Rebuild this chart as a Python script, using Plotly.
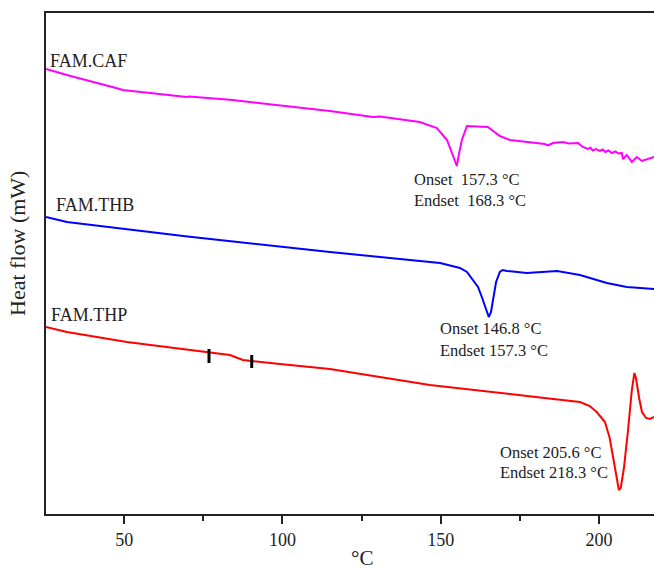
import plotly.graph_objects as go

# ---- data (temperature in °C, heat flow in arbitrary offset units) ----
caf_T = [25.3, 31.9, 48.6, 49.5, 69.8, 70.5, 84.3, 115.0, 128.6, 130.8, 143.4, 148.8, 152.0, 154.2, 155.1,
         155.9, 156.7, 158.3, 164.9, 168.7, 171.9, 182.9, 183.8, 184.5, 185.5, 188.6, 190.5, 193.4, 194.9,
         196.5, 197.3, 198.0, 199.0, 200.3, 201.2, 202.0, 203.0, 204.1, 205.2, 206.2, 207.2, 207.6,
         208.8, 210.4, 212.0, 213.6, 215.5, 217.4]
caf_HF = [8.90, 8.78, 8.50, 8.48, 8.34, 8.35, 8.28, 8.06, 7.94, 7.95, 7.84, 7.72, 7.48, 7.12, 6.96,
          7.24, 7.48, 7.76, 7.74, 7.56, 7.48, 7.40, 7.37, 7.39, 7.42, 7.44, 7.41, 7.42, 7.34,
          7.30, 7.33, 7.27, 7.30, 7.26, 7.29, 7.24, 7.27, 7.22, 7.25, 7.21, 7.22, 7.10,
          7.18, 7.04, 7.14, 7.06, 7.10, 7.14]

thb_T = [25.3, 31.9, 70.0, 115.0, 149.8, 156.1, 158.3, 160.2, 161.8, 163.0, 164.3, 165.2, 165.9, 166.5,
         167.5, 168.7, 169.6, 170.9, 177.2, 186.8, 194.0, 202.5, 208.8, 217.4]
thb_HF = [5.94, 5.84, 5.55, 5.24, 5.02, 4.92, 4.84, 4.68, 4.54, 4.34, 4.12, 3.94, 4.04, 4.28,
          4.64, 4.84, 4.88, 4.86, 4.82, 4.86, 4.78, 4.62, 4.54, 4.50]

thp_T = [25.3, 31.9, 50.85, 76.1, 83.4, 87.5, 90.3, 99.2, 115.0, 146.6, 180.0, 188.6, 194.0, 197.1,
         199.3, 201.9, 203.4, 205.3, 206.3, 206.9, 207.9, 209.2, 210.4, 211.2, 211.7, 212.7, 213.6,
         214.9, 216.1, 217.4]
thp_HF = [3.74, 3.64, 3.44, 3.24, 3.18, 3.08, 3.06, 3.00, 2.90, 2.58, 2.34, 2.28, 2.24, 2.16,
          2.04, 1.84, 1.52, 0.84, 0.48, 0.52, 0.92, 1.68, 2.48, 2.82, 2.72, 2.32, 2.04,
          1.92, 1.90, 1.94]

# small vertical markers on the FAM.THP curve
mark_T = [76.8, 90.3]
mark_lo = [3.02, 2.92]
mark_hi = [3.30, 3.18]

labels = ["FAM.CAF", "FAM.THB", "FAM.THP"]
label_T = [25.9, 27.8, 26.2]
label_HF = [9.06, 6.18, 3.98]

notes = ["Onset\u00a0\u00a0157.3 °C", "Endset\u00a0\u00a0168.3 °C",
         "Onset 146.8 °C", "Endset 157.3 °C",
         "Onset 205.6 °C", "Endset 218.3 °C"]
note_T = [140.9, 140.9, 149.1, 149.1, 168.0, 168.0]
note_HF = [6.70, 6.28, 3.72, 3.28, 1.24, 0.84]

xticks = [50, 100, 150, 200]
xminor = [75, 125, 175]

SERIF = "Liberation Serif, Times New Roman, serif"

fig = go.Figure()
fig.add_trace(go.Scatter(x=caf_T, y=caf_HF, mode="lines", line=dict(color="#FF00FF", width=2), showlegend=False))
fig.add_trace(go.Scatter(x=thb_T, y=thb_HF, mode="lines", line=dict(color="#0000FF", width=2), showlegend=False))
fig.add_trace(go.Scatter(x=thp_T, y=thp_HF, mode="lines", line=dict(color="#FF0000", width=2), showlegend=False))
for t, lo, hi in zip(mark_T, mark_lo, mark_hi):
    fig.add_trace(go.Scatter(x=[t, t], y=[lo, hi], mode="lines", line=dict(color="black", width=3), showlegend=False))

for txt, t, h in zip(labels, label_T, label_HF):
    fig.add_annotation(x=t, y=h, text=txt, showarrow=False, xanchor="left", yanchor="middle",
                       font=dict(family=SERIF, size=18, color="#222"))
for txt, t, h in zip(notes, note_T, note_HF):
    fig.add_annotation(x=t, y=h, text=txt, showarrow=False, xanchor="left", yanchor="middle",
                       font=dict(family=SERIF, size=16.5, color="#222"))

# axis titles as annotations
fig.add_annotation(x=0, xref="paper", y=0.539, yref="paper", xshift=-28, text="Heat flow (mW)",
                   textangle=-90, showarrow=False, xanchor="center", yanchor="middle",
                   font=dict(family=SERIF, size=22, color="#222"))
fig.add_annotation(x=0.52, xref="paper", y=0, yref="paper", yshift=-30, text="°C",
                   showarrow=False, xanchor="center", yanchor="top",
                   font=dict(family=SERIF, size=21, color="#222"))

fig.update_layout(
    width=654, height=569,
    margin=dict(l=46, r=0, t=13, b=55, autoexpand=False),
    paper_bgcolor="white", plot_bgcolor="white",
    font=dict(family=SERIF, color="#222"),
    xaxis=dict(range=[25.3, 217.4], tickvals=xticks, ticks="outside", ticklen=8, tickwidth=2,
               tickcolor="#222", showline=True, linewidth=2, linecolor="#222", mirror=True,
               showgrid=False, zeroline=False, tickfont=dict(family=SERIF, size=18, color="#222"),
               automargin=False,
               minor=dict(tickvals=xminor, ticks="outside", ticklen=5, tickwidth=2, tickcolor="#222")),
    yaxis=dict(range=[0, 10.02], showticklabels=False, ticks="", showline=True, linewidth=2,
               linecolor="#222", showgrid=False, zeroline=False, automargin=False),
)

fig.write_html("out.html")
